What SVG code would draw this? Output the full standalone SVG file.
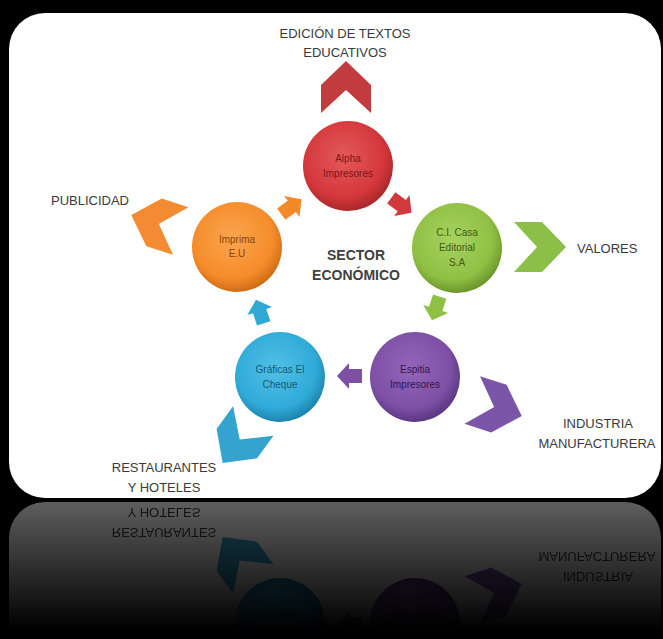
<svg xmlns="http://www.w3.org/2000/svg" xmlns:xlink="http://www.w3.org/1999/xlink" width="663" height="639" viewBox="0 0 663 639">
<style>
.lbl{font-family:"Liberation Sans",Arial,sans-serif;font-size:13px;fill:#3a3a3a;text-anchor:middle}
.ctr{font-family:"Liberation Sans",Arial,sans-serif;font-size:14px;font-weight:bold;fill:#404040;text-anchor:middle}
.ntx{font-family:"Liberation Sans",Arial,sans-serif;font-size:10px;text-anchor:middle}
</style>
<defs>
<path id="chev" d="M0,-26 L25,-2 L25,26 L0,3 L-25,26 L-25,-2 Z"/>
<path id="sarrow" d="M-12,-7 L1,-7 L1,-13 L13,0 L1,13 L1,7 L-12,7 Z"/>
<radialGradient id="gRed" cx="45%" cy="40%" r="60%"><stop offset="0" stop-color="#e35a5c"/><stop offset="0.75" stop-color="#d4373b"/><stop offset="1" stop-color="#a9282c"/></radialGradient>
<radialGradient id="gGreen" cx="45%" cy="40%" r="60%"><stop offset="0" stop-color="#a7d25f"/><stop offset="0.75" stop-color="#8fc043"/><stop offset="1" stop-color="#6c962c"/></radialGradient>
<radialGradient id="gOrange" cx="45%" cy="40%" r="60%"><stop offset="0" stop-color="#fba550"/><stop offset="0.75" stop-color="#f58c2a"/><stop offset="1" stop-color="#cf6d16"/></radialGradient>
<radialGradient id="gPurple" cx="45%" cy="40%" r="60%"><stop offset="0" stop-color="#9366bb"/><stop offset="0.75" stop-color="#7d4fa5"/><stop offset="1" stop-color="#5c3782"/></radialGradient>
<radialGradient id="gBlue" cx="45%" cy="40%" r="60%"><stop offset="0" stop-color="#52c0e6"/><stop offset="0.75" stop-color="#30aad8"/><stop offset="1" stop-color="#1d84ad"/></radialGradient>
<linearGradient id="fadeG" gradientUnits="userSpaceOnUse" x1="0" y1="502" x2="0" y2="630"><stop offset="0" stop-color="#fff" stop-opacity="0.37"/><stop offset="1" stop-color="#fff" stop-opacity="0"/></linearGradient>
<mask id="fade" maskUnits="userSpaceOnUse" x="0" y="500" width="663" height="139"><rect x="0" y="500" width="663" height="139" fill="url(#fadeG)"/></mask>
</defs>
<rect x="0" y="0" width="663" height="639" fill="#000"/>
<g id="panel">
<rect x="9" y="13" width="652" height="485" rx="36" fill="#fff"/>
<text class="ctr" x="356" y="260">SECTOR</text>
<text class="ctr" x="356" y="280">ECONÓMICO</text>
<g id="connectors">
<use xlink:href="#sarrow" transform="translate(291,207) rotate(-36)" fill="#f4892a"/>
<use xlink:href="#sarrow" transform="translate(401,205) rotate(36)" fill="#d03a3c"/>
<use xlink:href="#sarrow" transform="translate(436,308) rotate(108)" fill="#8dc043"/>
<use xlink:href="#sarrow" transform="translate(350,376) rotate(180)" fill="#7d4fa5"/>
<use xlink:href="#sarrow" transform="translate(260,312) rotate(-108)" fill="#2fa8d6"/>
</g>
<g id="node-alpha">
<circle cx="348" cy="166" r="45" fill="url(#gRed)"/>
<text class="ntx" fill="#7a1515" x="348" y="162">Alpha</text>
<text class="ntx" fill="#7a1515" x="348" y="177">Impresores</text>
</g>
<g id="node-casa">
<circle cx="457" cy="248" r="45" fill="url(#gGreen)"/>
<text class="ntx" fill="#3f5a14" x="457" y="236">C.I. Casa</text>
<text class="ntx" fill="#3f5a14" x="457" y="251">Editorial</text>
<text class="ntx" fill="#3f5a14" x="457" y="266">S.A</text>
</g>
<g id="node-espitia">
<circle cx="415" cy="377" r="45" fill="url(#gPurple)"/>
<text class="ntx" fill="#2e1650" x="415" y="373">Espitia</text>
<text class="ntx" fill="#2e1650" x="415" y="388">Impresores</text>
</g>
<g id="node-graficas">
<circle cx="280" cy="377" r="45" fill="url(#gBlue)"/>
<text class="ntx" fill="#135a78" x="280" y="373">Gráficas El</text>
<text class="ntx" fill="#135a78" x="280" y="388">Cheque</text>
</g>
<g id="node-imprima">
<circle cx="237" cy="247" r="45" fill="url(#gOrange)"/>
<text class="ntx" fill="#8a4208" x="237" y="243">Imprima</text>
<text class="ntx" fill="#8a4208" x="237" y="257">E.U</text>
</g>
<g id="out-edicion">
<use xlink:href="#chev" transform="translate(346,87)" fill="#c23b3e"/>
<text class="lbl" x="345" y="38">EDICIÓN DE TEXTOS</text>
<text class="lbl" x="345" y="57">EDUCATIVOS</text>
</g>
<g id="out-valores">
<use xlink:href="#chev" transform="translate(540,247) rotate(90)" fill="#8cbf47"/>
<text class="lbl" x="577" y="253" style="text-anchor:start">VALORES</text>
</g>
<g id="out-industria">
<use xlink:href="#chev" transform="translate(497,408) rotate(108)" fill="#7a55a8"/>
<text class="lbl" x="598" y="428">INDUSTRIA</text>
<text class="lbl" x="597" y="448">MANUFACTURERA</text>
</g>
<g id="out-restaurantes">
<use xlink:href="#chev" transform="translate(238,442) rotate(216)" fill="#35a3cf"/>
<text class="lbl" x="164" y="472">RESTAURANTES</text>
<text class="lbl" x="164" y="492">Y HOTELES</text>
</g>
<g id="out-publicidad">
<use xlink:href="#chev" transform="translate(156,223) rotate(-72)" fill="#f28b32"/>
<text class="lbl" x="90" y="205">PUBLICIDAD</text>
</g>
</g>
<g id="reflection" mask="url(#fade)">
<use xlink:href="#panel" transform="matrix(1 0 0 -1 0 1000)"/>
</g>
</svg>
